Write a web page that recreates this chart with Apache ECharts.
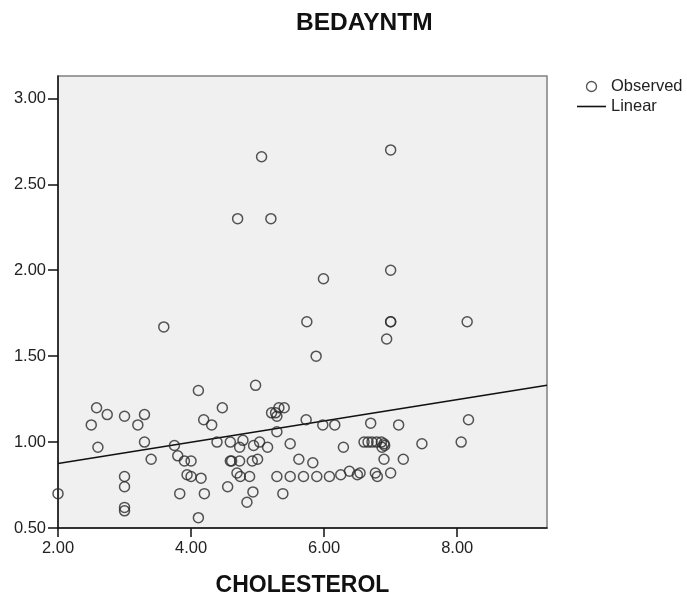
<!DOCTYPE html>
<html>
<head>
<meta charset="utf-8">
<script src="https://cdn.jsdelivr.net/npm/echarts@6/dist/echarts.min.js"></script>
<style>
  html, body { margin: 0; padding: 0; background: #fff; }
  #chart { width: 687px; height: 597px; }
</style>
</head>
<body>
<div id="chart"></div>
<script>
// observed points (CHOLESTEROL, BEDAYNTM)
const cholesterol = [
  7.00, 5.06, 4.70, 5.20, 7.00, 5.99, 7.00, 7.00, 8.15, 5.74, 3.59, 6.94, 5.88,
  2.00, 2.50, 2.58, 2.74, 2.60, 3.00, 3.20, 3.30, 3.30, 3.40, 3.00, 3.00, 3.00, 3.00,
  4.11, 4.97, 4.47, 4.19, 4.31, 3.75, 3.80, 3.90, 4.00, 3.94, 4.00, 4.15, 3.83, 4.20, 4.11,
  4.39, 4.59, 4.78, 4.73, 4.94, 5.03, 5.15, 4.59, 4.61, 4.73, 4.92, 5.00, 4.69, 4.74, 4.88,
  4.55, 4.93, 4.84,
  5.21, 5.27, 5.32, 5.40, 5.29, 5.73, 5.98, 6.16, 6.70, 5.29, 5.49, 5.62, 5.83, 6.29,
  5.29, 5.49, 5.69, 5.89, 6.08, 6.25, 6.38, 6.50, 6.54, 6.77, 6.80, 5.38,
  7.12, 8.17, 8.06, 7.47, 6.60, 6.66, 6.72, 6.79, 6.86, 6.90, 6.87, 6.91, 6.90, 7.19, 7.00
]
const bedayntm = [
  2.70, 2.66, 2.30, 2.30, 2.00, 1.95, 1.70, 1.70, 1.70, 1.70, 1.67, 1.60, 1.50,
  0.70, 1.10, 1.20, 1.16, 0.97, 1.15, 1.10, 1.16, 1.00, 0.90, 0.80, 0.74, 0.62, 0.60,
  1.30, 1.33, 1.20, 1.13, 1.10, 0.98, 0.92, 0.89, 0.89, 0.81, 0.80, 0.79, 0.70, 0.70, 0.56,
  1.00, 1.00, 1.01, 0.97, 0.98, 1.00, 0.97, 0.89, 0.89, 0.89, 0.89, 0.90, 0.82, 0.80, 0.80,
  0.74, 0.71, 0.65,
  1.17, 1.17, 1.20, 1.20, 1.15, 1.13, 1.10, 1.10, 1.11, 1.06, 0.99, 0.90, 0.88, 0.97,
  0.80, 0.80, 0.80, 0.80, 0.80, 0.81, 0.83, 0.81, 0.82, 0.82, 0.80, 0.70,
  1.10, 1.13, 1.00, 0.99, 1.00, 1.00, 1.00, 1.00, 1.00, 0.99, 0.97, 0.98, 0.90, 0.90, 0.82
]
// linear fit line, end points
const linearX = [2.00, 9.35]
const linearY = [0.875, 1.33]
// tick labels
const xTicks = [2, 4, 6, 8]
const yTicks = [0.5, 1.0, 1.5, 2.0, 2.5, 3.0]

const observed = cholesterol.map((x, i) => [x, bedayntm[i]])
const linear = linearX.map((x, i) => [x, linearY[i]])

const font = '"Liberation Sans", Arial, sans-serif'
const ink = '#2b2b2b'

let myChart = echarts.init(document.getElementById('chart'))
myChart.setOption({
  animation: false,
  title: {
    text: 'BEDAYNTM',
    left: 296,
    top: 11,
    padding: 0,
    textStyle: { fontFamily: font, fontSize: 24.5, fontWeight: 'bold', color: '#111' }
  },
  legend: {
    orient: 'vertical',
    left: 577,
    top: 78,
    padding: 0,
    itemWidth: 29,
    itemHeight: 10,
    itemGap: 3,
    textStyle: { fontFamily: font, fontSize: 16.5, color: '#222' },
    data: [
      {
        name: 'Observed',
        icon: 'circle',
        itemStyle: { color: 'transparent', borderColor: ink, borderWidth: 1.3 }
      },
      {
        name: 'Linear',
        icon: 'path://M0,0 L29,0 L29,1.6 L0,1.6 Z',
        itemStyle: { color: '#111', borderWidth: 0 }
      }
    ]
  },
  grid: {
    left: 58,
    top: 76,
    right: 140,
    bottom: 69,
    outerBoundsMode: 'none',
    show: true,
    backgroundColor: '#f0f0f0',
    borderColor: '#808080',
    borderWidth: 1.5
  },
  xAxis: {
    type: 'value',
    min: 2,
    max: 9.35,
    interval: 2,
    name: 'CHOLESTEROL',
    nameLocation: 'middle',
    nameGap: 46,
    nameTextStyle: { fontFamily: font, fontSize: 23, fontWeight: 'bold', color: '#111' },
    axisLine: { show: true, lineStyle: { color: '#111', width: 1.5 } },
    axisTick: { show: true, length: 9, customValues: xTicks, lineStyle: { color: '#111', width: 1.5 } },
    axisLabel: {
      margin: 12,
      customValues: xTicks,
      fontFamily: font,
      fontSize: 16.5,
      color: '#222',
      formatter: v => v.toFixed(2)
    },
    splitLine: { show: false }
  },
  yAxis: {
    type: 'value',
    min: 0.5,
    max: 3.13,
    interval: 0.5,
    axisLine: { show: true, lineStyle: { color: '#111', width: 1.5 } },
    axisTick: { show: true, length: 10, customValues: yTicks, lineStyle: { color: '#111', width: 1.5 } },
    axisLabel: {
      margin: 12,
      customValues: yTicks,
      fontFamily: font,
      fontSize: 16.5,
      color: '#222',
      formatter: v => v.toFixed(2)
    },
    splitLine: { show: false }
  },
  series: [
    {
      name: 'Observed',
      type: 'scatter',
      symbol: 'circle',
      symbolSize: 10,
      itemStyle: { color: 'transparent', borderColor: ink, borderWidth: 1.5 },
      data: observed,
      z: 3
    },
    {
      name: 'Linear',
      type: 'line',
      showSymbol: false,
      symbol: 'none',
      lineStyle: { color: '#111', width: 1.5 },
      itemStyle: { color: '#111' },
      data: linear,
      z: 2
    }
  ]
})
</script>
</body>
</html>
